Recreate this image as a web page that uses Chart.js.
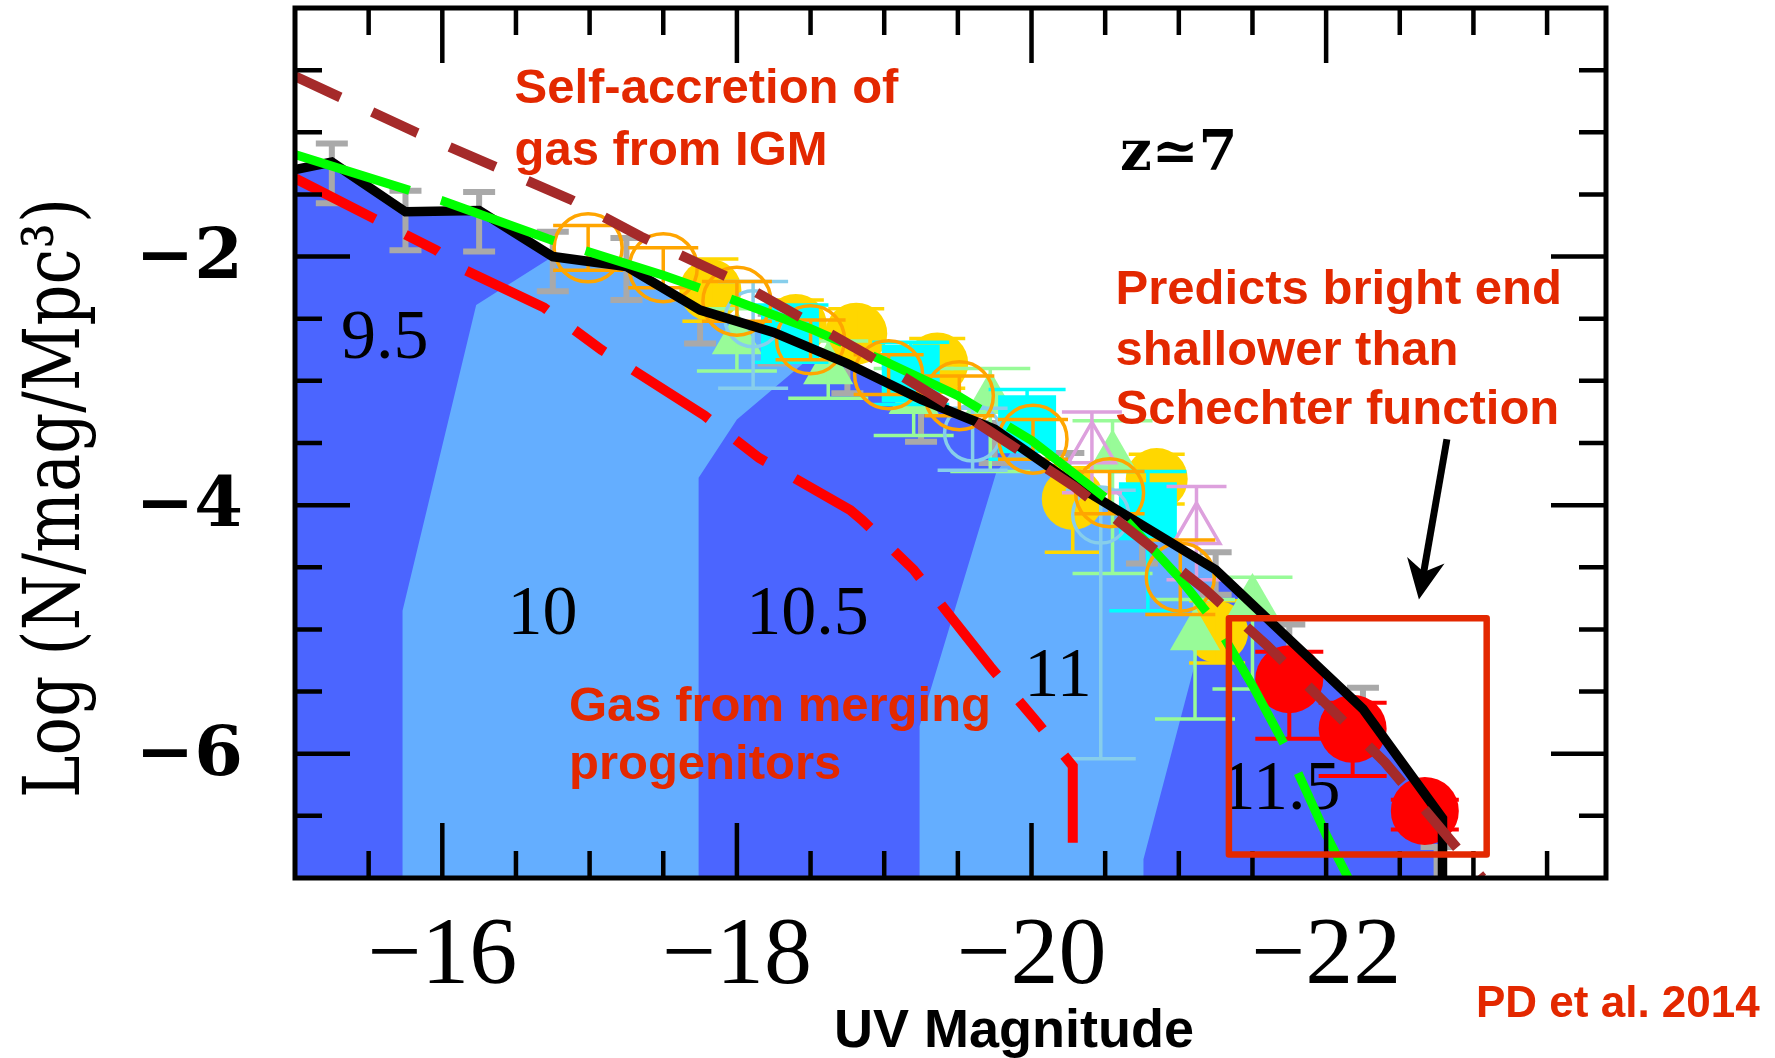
<!DOCTYPE html>
<html>
<head>
<meta charset="utf-8">
<style>
  html, body { margin: 0; padding: 0; background: #fff; }
  canvas { display: block; }
</style>
<script src="https://cdn.jsdelivr.net/npm/chart.js@4/dist/chart.umd.min.js"></script>
</head>
<body>
<canvas id="lf" width="1775" height="1058"></canvas>
<script>
// Model curves: [UV magnitude, log phi]
const blackModel = [
  [-15.0, -1.30], [-15.25, -1.24], [-15.75, -1.64], [-16.25, -1.63], [-16.75, -2.00],
  [-17.25, -2.08], [-17.75, -2.43], [-18.25, -2.61], [-18.75, -2.86], [-19.25, -3.15],
  [-19.75, -3.39], [-20.25, -3.80], [-20.75, -4.16], [-21.25, -4.52], [-21.75, -5.08],
  [-22.25, -5.64], [-22.79, -6.52], [-22.79, -7.00]
];
const schechterFit = [
  [-15.0, -1.18], [-16.0, -1.55], [-16.75, -1.87], [-17.5, -2.15], [-18.0, -2.36],
  [-18.5, -2.58], [-19.0, -2.84], [-19.5, -3.12], [-20.0, -3.48], [-20.5, -3.94],
  [-21.0, -4.58], [-21.25, -4.95], [-21.5, -5.45], [-21.75, -6.00], [-22.0, -6.65], [-22.15, -7.0]
];
const selfAccretion = [
  [-15.0, -0.55], [-15.82, -1.00], [-16.87, -1.54], [-17.35, -1.84], [-18.0, -2.20],
  [-18.87, -2.78], [-19.53, -3.26], [-20.29, -3.85], [-21.18, -4.68], [-21.6, -5.13],
  [-22.4, -6.07], [-23.06, -7.0]
];
const mergingGas = [
  [-15.0, -1.37], [-15.96, -1.95], [-16.14, -2.10], [-16.69, -2.41], [-17.08, -2.75],
  [-17.78, -3.28], [-18.15, -3.62], [-18.77, -4.04], [-18.85, -4.12], [-19.2, -4.52],
  [-19.72, -5.30], [-20.04, -5.75], [-20.28, -6.10], [-20.28, -7.0]
];

// halo mass bands (light blue), the dark bands are the area under the black model
const band10Shape = [
  [-15.73, -7.0], [-15.73, -4.85], [-16.23, -2.39], [-16.75, -2.00], [-17.25, -2.08],
  [-17.75, -2.43], [-18.25, -2.61], [-18.55, -2.76], [-18.0, -3.31], [-17.74, -3.78], [-17.74, -7.0]
];
const band11Shape = [
  [-19.24, -7.0], [-19.24, -5.78], [-19.76, -3.74], [-19.9, -3.51], [-20.25, -3.80],
  [-20.75, -4.16], [-21.25, -4.52], [-21.28, -4.55], [-21.14, -5.14], [-20.76, -6.85], [-20.76, -7.0]
];
const bandLabels = ['9.5', '10', '10.5', '11', '11.5'];
const bandLabelPos = [[-15.61, -2.816], [-16.68, -5.04], [-18.48, -5.04], [-20.18, -5.536], [-21.69, -6.447]];

// Observations: [M, log phi, err down, err up]
const greyBars = [
  [-15.25, -1.33, 0.24, 0.24], [-15.75, -1.71, 0.24, 0.24], [-16.25, -1.72, 0.24, 0.24],
  [-16.75, -2.04, 0.24, 0.24], [-17.25, -2.10, 0.25, 0.25], [-17.75, -2.48, 0.22, 0.22],
  [-18.25, -2.66, 0.2, 0.2], [-18.75, -2.92, 0.18, 0.18], [-19.25, -3.30, 0.19, 0.19],
  [-19.75, -3.50, 0.16, 0.16], [-20.25, -3.76, 0.18, 0.18], [-20.75, -4.30, 0.17, 0.17],
  [-21.25, -4.55, 0.17, 0.17], [-21.75, -5.18, 0.22, 0.22], [-22.25, -5.66, 0.19, 0.19],
  [-22.75, -6.95, 0.2, 0.2]
];
const yellowCircles = [
  [-17.82, -2.27, 0.25, 0.25], [-18.40, -2.55, 0.2, 0.2], [-18.81, -2.62, 0.2, 0.2],
  [-19.36, -2.86, 0.2, 0.2], [-20.28, -3.95, 0.43, 0.25], [-20.85, -3.79, 0.2, 0.2],
  [-21.26, -5.02, 0.25, 0.25]
];
const greenTriangles = [
  [-18.00, -2.67, 0.25, 0.25], [-18.62, -2.91, 0.23, 0.23], [-19.20, -3.15, 0.29, 0.25],
  [-19.72, -3.15, 0.58, 0.25], [-20.55, -3.62, 0.93, 0.3], [-21.11, -5.05, 0.67, 0.29],
  [-21.50, -4.78, 0.7, 0.2]
];
const cyanSquares = [
  [-18.36, -2.62, 0.23, 0.23], [-19.18, -2.94, 0.25, 0.25], [-19.97, -3.35, 0.28, 0.28],
  [-20.79, -4.05, 0.8, 0.32]
];
const skyCircles = [
  [-18.11, -2.50, 0.56, 0.3], [-19.60, -3.42, 0.3, 0.2], [-20.47, -4.08, 1.96, 0.2]
];
const plumTriangles = [
  [-20.41, -3.55, 0.35, 0.3], [-21.12, -4.20, 0.4, 0.35]
];
const orangeCircles = [
  [-16.99, -1.93, 0.18, 0.18], [-17.50, -2.09, 0.16, 0.16], [-18.00, -2.36, 0.16, 0.16],
  [-18.50, -2.67, 0.16, 0.16], [-19.03, -2.95, 0.16, 0.16], [-19.51, -3.12, 0.16, 0.16],
  [-20.01, -3.47, 0.16, 0.16], [-20.53, -3.90, 0.17, 0.17], [-21.01, -4.58, 0.3, 0.3]
];
const redCircles = [
  [-21.75, -5.40, 0.48, 0.22], [-22.18, -5.80, 0.38, 0.21], [-22.67, -6.46, 0.15, 0.09]
];

// axes
const xMajorTicks = [-16, -18, -20, -22];
const yMajorTicks = [-2, -4, -6];

// annotations, in data coordinates
const redNotes = [
  ['Self-accretion of', -16.49, -0.766],
  ['gas from IGM', -16.49, -1.262],
  ['Predicts bright end', -20.57, -2.38],
  ['shallower than', -20.57, -2.875],
  ['Schechter function', -20.57, -3.35],
  ['Gas from merging', -16.86, -5.737],
  ['progenitors', -16.86, -6.206]
];
const zLabelPos = [-20.60, -1.302];
const boxCorners = [[-21.34, -4.91], [-23.09, -6.81]];
const arrowFrom = [-22.82, -3.47];
const arrowTo = [-22.63, -4.76];

const redText = '#e32800';
const darkBlue = '#4b65ff';
const lightBlue = '#64aeff';

const xy = arr => arr.map(p => ({x: p[0], y: p[1]}));
const envelope = [[blackModel[0][0], -7], ...blackModel];
const minus = v => '\u2212' + (-v);

function shapeSet(tag, pts, color, order) {
  return {tag, data: xy(pts), fill: 'shape', backgroundColor: color, borderColor: 'rgba(0,0,0,0)',
    borderWidth: 0, pointRadius: 0, tension: 0, order, clip: 0};
}
function curveSet(pts, color, width, dash, order) {
  return {data: xy(pts), borderColor: color, borderWidth: width, borderDash: dash, borderCapStyle: 'butt',
    borderJoinStyle: 'miter', fill: false, pointRadius: 0, tension: 0, order, clip: 0};
}
function markerSet(pts, style, radius, fillColor, lineColor, lineWidth, err, order) {
  return {data: xy(pts), showLine: false, pointStyle: style, pointRadius: radius,
    pointBackgroundColor: fillColor, pointBorderColor: lineColor, pointBorderWidth: lineWidth,
    errBars: pts, errStyle: err, order, clip: 0};
}

// vertical error bars with caps, drawn right after their markers
const errorBarPlugin = {
  id: 'errorBars',
  afterDatasetDraw(chart, args) {
    const ds = chart.data.datasets[args.index];
    if (!ds.errBars) return;
    const {ctx, chartArea: a, scales: {x, y}} = chart;
    const st = ds.errStyle;
    ctx.save();
    ctx.beginPath();
    ctx.rect(a.left, a.top, a.right - a.left, a.bottom - a.top);
    ctx.clip();
    ctx.strokeStyle = st.color;
    ctx.lineWidth = st.width;
    ds.errBars.forEach(p => {
      const px = x.getPixelForValue(p[0]);
      const top = y.getPixelForValue(p[1] + p[3]);
      const bot = y.getPixelForValue(p[1] - p[2]);
      const h = st.cap / 2;
      ctx.beginPath();
      ctx.moveTo(px, top); ctx.lineTo(px, bot);
      ctx.moveTo(px - h, top); ctx.lineTo(px + h, top);
      ctx.moveTo(px - h, bot); ctx.lineTo(px + h, bot);
      ctx.stroke();
    });
    ctx.restore();
  }
};

const decorPlugin = {
  id: 'decor',
  afterDatasetDraw(chart, args) {
    if (chart.data.datasets[args.index].tag !== 'band11') return;
    const {ctx, scales: {x, y}} = chart;
    ctx.save();
    ctx.fillStyle = '#000';
    ctx.font = '70px "Liberation Serif"';
    ctx.textAlign = 'center';
    ctx.textBaseline = 'alphabetic';
    bandLabels.forEach((t, i) => {
      ctx.fillText(t, x.getPixelForValue(bandLabelPos[i][0]), y.getPixelForValue(bandLabelPos[i][1]));
    });
    ctx.restore();
  },
  afterDatasetsDraw(chart) {
    const {ctx, chartArea: a, scales: {x, y}} = chart;
    ctx.save();
    // frame and inward ticks
    ctx.strokeStyle = '#000';
    ctx.lineWidth = 4.5;
    ctx.beginPath();
    for (let i = 1; i <= 17; i++) {
      const v = -15 - 0.5 * i;
      const len = xMajorTicks.includes(v) ? 55 : 27;
      const px = x.getPixelForValue(v);
      ctx.moveTo(px, a.bottom); ctx.lineTo(px, a.bottom - len);
      ctx.moveTo(px, a.top); ctx.lineTo(px, a.top + len);
    }
    for (let i = 1; i <= 13; i++) {
      const v = -0.5 * i;
      const len = yMajorTicks.includes(v) ? 55 : 27;
      const py = y.getPixelForValue(v);
      ctx.moveTo(a.left, py); ctx.lineTo(a.left + len, py);
      ctx.moveTo(a.right, py); ctx.lineTo(a.right - len, py);
    }
    ctx.stroke();
    ctx.lineWidth = 5;
    ctx.strokeRect(a.left, a.top, a.right - a.left, a.bottom - a.top);

    // tick labels
    ctx.fillStyle = '#000';
    ctx.textBaseline = 'middle';
    ctx.textAlign = 'center';
    ctx.font = '96px "Liberation Serif"';
    xMajorTicks.forEach(v => ctx.fillText(minus(v), x.getPixelForValue(v), a.bottom + 80));
    ctx.textAlign = 'right';
    ctx.font = 'bold 70px "DejaVu Serif"';
    yMajorTicks.forEach(v => ctx.fillText(minus(v), a.left - 52, y.getPixelForValue(v) + 3));

    // red notes
    ctx.fillStyle = redText;
    ctx.font = 'bold 49px "Liberation Sans"';
    ctx.textAlign = 'left';
    ctx.textBaseline = 'alphabetic';
    redNotes.forEach(n => ctx.fillText(n[0], x.getPixelForValue(n[1]), y.getPixelForValue(n[2])));

    // redshift label
    ctx.fillStyle = '#000';
    ctx.font = 'bold 56px "DejaVu Serif"';
    ctx.fillText('z\u22437', x.getPixelForValue(zLabelPos[0]), y.getPixelForValue(zLabelPos[1]));

    // box around bright end
    const bx0 = x.getPixelForValue(boxCorners[0][0]), by0 = y.getPixelForValue(boxCorners[0][1]);
    const bx1 = x.getPixelForValue(boxCorners[1][0]), by1 = y.getPixelForValue(boxCorners[1][1]);
    ctx.strokeStyle = redText;
    ctx.lineWidth = 6.5;
    ctx.lineJoin = 'round';
    ctx.strokeRect(bx0, by0, bx1 - bx0, by1 - by0);

    // arrow
    const ax0 = x.getPixelForValue(arrowFrom[0]), ay0 = y.getPixelForValue(arrowFrom[1]);
    const ax1 = x.getPixelForValue(arrowTo[0]), ay1 = y.getPixelForValue(arrowTo[1]);
    const ang = Math.atan2(ay1 - ay0, ax1 - ax0);
    const dx = Math.cos(ang), dy = Math.sin(ang);
    const headLen = 40, headW = 19;
    ctx.strokeStyle = '#000';
    ctx.fillStyle = '#000';
    ctx.lineWidth = 7;
    ctx.beginPath();
    ctx.moveTo(ax0, ay0);
    ctx.lineTo(ax1 - dx * headLen * 0.6, ay1 - dy * headLen * 0.6);
    ctx.stroke();
    ctx.beginPath();
    ctx.moveTo(ax1, ay1);
    ctx.lineTo(ax1 - dx * headLen - dy * headW, ay1 - dy * headLen + dx * headW);
    ctx.lineTo(ax1 - dx * headLen * 0.7, ay1 - dy * headLen * 0.7);
    ctx.lineTo(ax1 - dx * headLen + dy * headW, ay1 - dy * headLen - dx * headW);
    ctx.closePath();
    ctx.fill();

    // axis titles and credit
    ctx.fillStyle = '#000';
    ctx.font = 'bold 54px "Liberation Sans"';
    ctx.textAlign = 'center';
    ctx.fillText('UV Magnitude', 1014, 1047);
    ctx.fillStyle = redText;
    ctx.font = 'bold 44px "Liberation Sans"';
    ctx.textAlign = 'left';
    ctx.fillText('PD et al. 2014', 1476, 1017);

    ctx.fillStyle = '#000';
    ctx.translate(79, 498);
    ctx.rotate(-Math.PI / 2);
    ctx.textAlign = 'center';
    ctx.font = '78px "DejaVu Serif"';
    ctx.fillText('Log (N/mag/Mpc\u00b3)', 0, 0, 600);
    ctx.restore();
  }
};

new Chart(document.getElementById('lf'), {
  type: 'line',
  data: {
    datasets: [
      shapeSet('envelope', envelope, darkBlue, 100),
      shapeSet('band10', band10Shape, lightBlue, 99),
      shapeSet('band11', band11Shape, lightBlue, 98),
      markerSet(greyBars, 'circle', 0, 'rgba(0,0,0,0)', 'rgba(0,0,0,0)', 0, {color: '#a9a9a9', width: 6, cap: 32}, 60),
      markerSet(yellowCircles, 'circle', 31, '#ffd700', '#ffd700', 0, {color: '#ffd700', width: 3.5, cap: 56}, 58),
      markerSet(greenTriangles, 'triangle', 29, '#98fb98', '#98fb98', 0, {color: '#98fb98', width: 3.5, cap: 80}, 56),
      markerSet(cyanSquares, 'rect', 41, '#00ffff', '#00ffff', 0, {color: '#00ffff', width: 3.5, cap: 77}, 54),
      markerSet(skyCircles, 'circle', 28, 'rgba(0,0,0,0)', '#87ceeb', 3.5, {color: '#87ceeb', width: 3.5, cap: 70}, 52),
      markerSet(plumTriangles, 'triangle', 27, 'rgba(0,0,0,0)', '#dda0dd', 3.5, {color: '#dda0dd', width: 3.5, cap: 60}, 50),
      markerSet(orangeCircles, 'circle', 34, 'rgba(0,0,0,0)', '#ffa500', 3.5, {color: '#ffa500', width: 3.5, cap: 70}, 48),
      markerSet(redCircles, 'circle', 34, '#ff0000', '#ff0000', 0, {color: '#ff0000', width: 4, cap: 68}, 46),
      curveSet(mergingGas, '#ff0000', 10, [90, 34, 37, 34], 20),
      curveSet(blackModel, '#000000', 9.5, [], 18),
      curveSet(schechterFit, '#00ff00', 9, [120, 33], 16),
      curveSet(selfAccretion, '#a52a2a', 10, [50, 35], 14)
    ]
  },
  options: {
    responsive: false,
    devicePixelRatio: 1,
    animation: false,
    events: [],
    layout: { autoPadding: false, padding: { top: 8, right: 169, left: 0, bottom: 0 } },
    plugins: { legend: { display: false }, tooltip: { enabled: false } },
    scales: {
      x: {
        type: 'linear',
        min: -23.9,
        max: -15,
        reverse: true,
        grid: { display: false },
        border: { display: false },
        ticks: { display: false },
        afterFit: s => { s.height = 180; }
      },
      y: {
        type: 'linear',
        min: -7,
        max: 0,
        grid: { display: false },
        border: { display: false },
        ticks: { display: false },
        afterFit: s => { s.width = 295; }
      }
    }
  },
  plugins: [errorBarPlugin, decorPlugin]
});
</script>
</body>
</html>
